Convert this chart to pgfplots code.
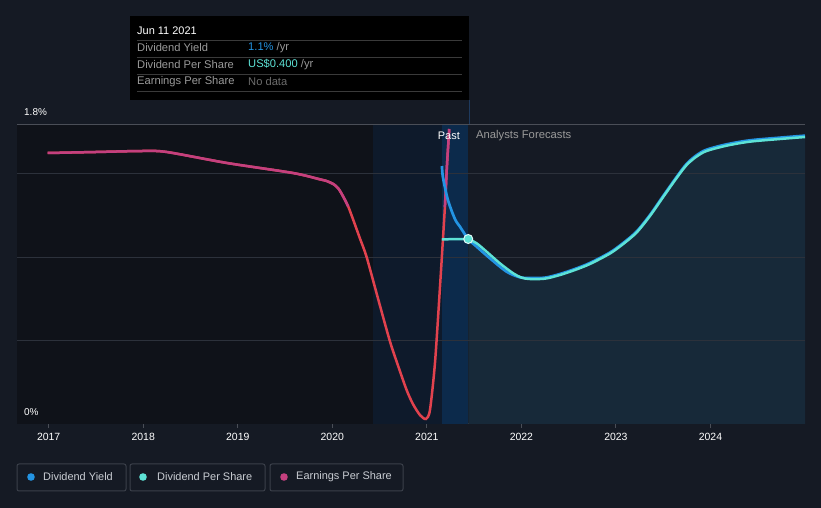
\documentclass[border=0pt]{standalone}
\usepackage{pgfplots}
\pgfplotsset{compat=1.18}
\usepackage{fontspec}
\setmainfont{Liberation Sans}
\definecolor{pagebg}{HTML}{151A24}
\definecolor{pastbg}{HTML}{0F1219}
\definecolor{midbg}{HTML}{0E1A2B}
\definecolor{bandbg}{HTML}{0C2A4B}
\definecolor{fcfill}{HTML}{172939}
\definecolor{gridc}{HTML}{2C313B}
\definecolor{gridtop}{HTML}{4A4E57}
\definecolor{axisc}{HTML}{4A4E57}
\definecolor{dy}{HTML}{2394E3}
\definecolor{dps}{HTML}{5DE2D6}
\definecolor{epsm}{HTML}{C4407F}
\definecolor{epsr}{HTML}{E1424E}
\definecolor{ttgray}{HTML}{9A9A9A}
\definecolor{ttsep}{HTML}{3A3A3A}
\definecolor{legtext}{HTML}{C8CCD2}
\definecolor{legborder}{HTML}{3B404A}
\definecolor{cursor}{HTML}{1E3A5E}
\pgfplotstableread{
x y
2016.99 1.626
2017.50 1.632
2017.995 1.638
2018.25 1.632
2018.886 1.566
2019.584 1.506
2019.869 1.468
2019.940 1.458
2020.010 1.440
2020.063 1.414
2020.116 1.364
2020.169 1.304
2020.222 1.224
2020.292 1.114
2020.363 1.002
2020.481 0.758
2020.608 0.499
2020.693 0.354
2020.786 0.204
2020.853 0.120
2020.927 0.054
2020.990 0.030
2021.033 0.084
2021.086 0.366
2021.139 0.822
2021.191 1.302
2021.212 1.542
2021.237 1.77
}\eps
\pgfplotstableread{
x y
2021.438 1.110
2021.527 1.084
2021.632 1.034
2021.773 0.964
2021.914 0.904
2022.003 0.878
2022.090 0.870
2022.249 0.872
2022.408 0.894
2022.566 0.924
2022.725 0.960
2022.937 1.023
2023.077 1.080
2023.219 1.149
2023.360 1.248
2023.500 1.362
2023.642 1.476
2023.748 1.554
2023.854 1.605
2023.959 1.638
2024.171 1.670
2024.417 1.694
2024.735 1.710
2025.0 1.722
}\dpsf
\pgfplotstableread{
x y
2021.160 1.548
2021.170 1.482
2021.223 1.344
2021.297 1.230
2021.350 1.184
2021.438 1.110
2021.527 1.064
2021.668 0.994
2021.844 0.914
2021.985 0.880
2022.090 0.876
2022.249 0.878
2022.408 0.900
2022.566 0.930
2022.725 0.966
2022.937 1.029
2023.077 1.086
2023.219 1.155
2023.360 1.254
2023.500 1.368
2023.642 1.482
2023.748 1.561
2023.854 1.613
2023.959 1.646
2024.171 1.678
2024.417 1.702
2024.735 1.718
2025.0 1.730
}\yield
\begin{document}
\begin{tikzpicture}
\fill[pagebg] (0bp,0bp) rectangle (821bp,508bp);
\begin{axis}[
  at={(17bp,84bp)}, anchor=south west,
  width=788bp, height=300bp, scale only axis,
  xmin=2016.665, xmax=2025.0, ymin=0, ymax=1.8,
  axis x line*=bottom, axis y line*=left,
  y axis line style={draw=none},
  x axis line style={draw=axisc, line width=1bp},
  xtick={2017,2018,2019,2020,2021,2022,2023,2024},
  xticklabels={2017,2018,2019,2020,2021,2022,2023,2024},
  xticklabel style={text=white, font=\fontsize{10.5}{12}\selectfont, yshift=-2bp},
  /pgf/number format/assume math mode=true,
  x tick style={draw=axisc, line width=1bp},
  tick align=outside, major tick length=4bp,
  ytick=\empty,
  clip=true,
]
\fill[pastbg] (axis cs:2016.665,0) rectangle (axis cs:2020.43,1.8);
\fill[midbg] (axis cs:2020.43,0) rectangle (axis cs:2021.16,1.8);
\fill[bandbg] (axis cs:2021.16,0) rectangle (axis cs:2021.44,1.8);
% forecast area
\addplot[fill=fcfill, draw=none, smooth] table[x=x,y=y] {\dpsf} \closedcycle;
% grid
\draw[gridc, line width=1bp] (axis cs:2016.665,0.5) -- (axis cs:2025,0.5);
\draw[gridc, line width=1bp] (axis cs:2016.665,1.0) -- (axis cs:2025,1.0);
\draw[gridc, line width=1bp] (axis cs:2016.665,1.5) -- (axis cs:2025,1.5);
\draw[gridtop, line width=1bp] (axis cs:2016.665,1.797) -- (axis cs:2025,1.797);
% EPS
\addplot[epsr, line width=2.5bp, smooth, tension=0.45] table[x=x,y=y] {\eps};
\addplot[epsm, line width=2.5bp, smooth, tension=0.45, restrict y to domain=1.3:2, unbounded coords=jump] table[x=x,y=y] {\eps};
% Dividend yield
\addplot[dy, line width=2.7bp, smooth, tension=0.5] table[x=x,y=y] {\yield};
% DPS
\addplot[dps, line width=2.5bp] coordinates {(2021.16,1.108)(2021.438,1.110)};
\addplot[dps, line width=2.5bp, smooth, tension=0.5] table[x=x,y=y] {\dpsf};
\addplot[only marks, mark=*, mark size=4.5bp, mark options={fill=dps, draw=white!80!dps, line width=1bp}] coordinates {(2021.438,1.110)};
\end{axis}
% cursor line above plot
\draw[cursor, line width=1bp] (469bp,384bp) -- (469bp,408bp);
% y labels
\node[anchor=west, text=white, font=\fontsize{10}{12}\selectfont, inner sep=0] at (24bp,396bp) {1.8\%};
\node[anchor=west, text=white, font=\fontsize{10}{12}\selectfont, inner sep=0] at (24bp,96bp) {0\%};
% Past / Forecast
\node[anchor=east, text=white, font=\fontsize{11}{13}\selectfont, inner sep=0] at (460bp,372bp) {Past};
\node[anchor=west, text=ttgray, font=\fontsize{11.3}{13}\selectfont, inner sep=0] at (476bp,372bp) {Analysts Forecasts};
% tooltip
\fill[black] (130bp,408bp) rectangle (469bp,492bp);
\node[anchor=west, text=white, font=\fontsize{11}{13}\selectfont, inner sep=0] at (137bp,477bp) {Jun 11 2021};
\foreach \yy in {468,451,434,417} {\draw[ttsep, line width=0.8bp] (137bp,\yy bp) -- (462bp,\yy bp);}
\node[anchor=west, text=ttgray, font=\fontsize{11.2}{13}\selectfont, inner sep=0] at (137bp,460bp) {Dividend Yield};
\node[anchor=west, text=ttgray, font=\fontsize{11.2}{13}\selectfont, inner sep=0] at (137bp,443bp) {Dividend Per Share};
\node[anchor=west, text=ttgray, font=\fontsize{11.2}{13}\selectfont, inner sep=0] at (137bp,426bp) {Earnings Per Share};
\node[anchor=west, font=\fontsize{11.2}{13}\selectfont, inner sep=0] at (248bp,460bp) {\textcolor{dy}{1.1\%}\ \textcolor{ttgray}{/yr}};
\node[anchor=west, font=\fontsize{11.2}{13}\selectfont, inner sep=0] at (248bp,443bp) {\textcolor{dps}{US\$0.400}\ \textcolor{ttgray}{/yr}};
\node[anchor=west, text=ttgray!70!black, font=\fontsize{11.2}{13}\selectfont, inner sep=0] at (248bp,426bp) {No data};
% legend
\draw[legborder, line width=1bp, rounded corners=2bp] (17bp,17bp) rectangle (126bp,44bp);
\draw[legborder, line width=1bp, rounded corners=2bp] (130bp,17bp) rectangle (265bp,44bp);
\draw[legborder, line width=1bp, rounded corners=2bp] (270bp,17bp) rectangle (403bp,44bp);
\fill[dy] (31bp,31bp) circle (3.8bp);
\fill[dps] (143bp,31bp) circle (3.8bp);
\fill[epsm] (284bp,31bp) circle (3.8bp);
\node[anchor=west, text=legtext, font=\fontsize{11}{13}\selectfont, inner sep=0] at (43bp,31bp) {Dividend Yield};
\node[anchor=west, text=legtext, font=\fontsize{11}{13}\selectfont, inner sep=0] at (157bp,31bp) {Dividend Per Share};
\node[anchor=west, text=legtext, font=\fontsize{11}{13}\selectfont, inner sep=0] at (296bp,31bp) {Earnings Per Share};
\pgfresetboundingbox
\path[use as bounding box] (0bp,0bp) rectangle (821bp,508bp);
\end{tikzpicture}
\end{document}
